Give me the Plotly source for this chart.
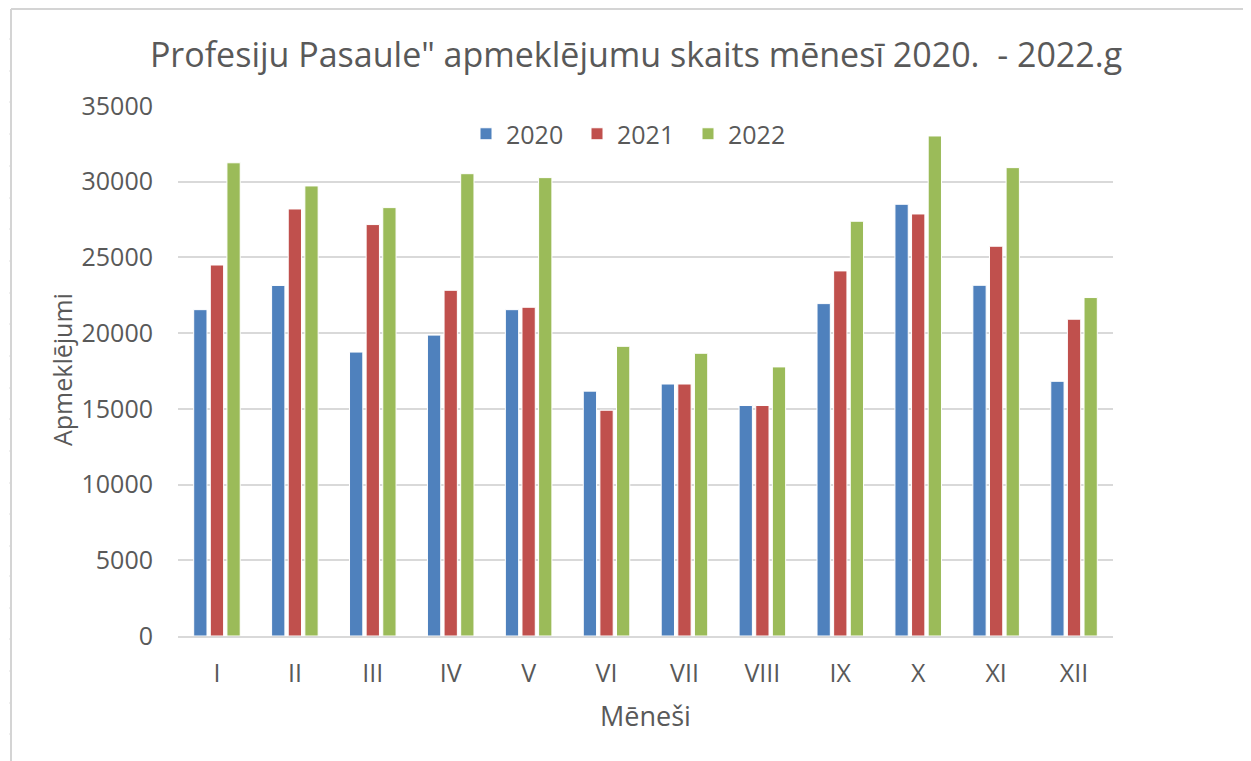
import plotly.graph_objects as go

months = ["I", "II", "III", "IV", "V", "VI", "VII", "VIII", "IX", "X", "XI", "XII"]
v2020 = [21550, 23150, 18750, 19870, 21550, 16170, 16640, 15220, 21950, 28510, 23160, 16820]
v2021 = [24500, 28200, 27170, 22830, 21710, 14910, 16640, 15220, 24110, 27870, 25740, 20920]
v2022 = [31250, 29720, 28290, 30530, 30270, 19130, 18670, 17770, 27390, 33020, 30930, 22350]
series_names = ["2020", "2021", "2022"]
colors = ["#4F81BD", "#C0504D", "#9BBB59"]

OFF = 8  # page body margin
W, H = 1251 - OFF, 761 - OFF
L, R, T, B = 178 - OFF, 1113 - OFF, 106 - OFF, 636 - OFF

def px(x):
    return (x - OFF - L) / (R - L)

def py(y):
    return (B - (y - OFF)) / (B - T)

FONT = "Open Sans"
TXT = "#595959"

fig = go.Figure()
for name, vals, c in zip(series_names, [v2020, v2021, v2022], colors):
    fig.add_trace(go.Bar(x=months, y=vals, name=name, marker=dict(color=c, line=dict(color="white", width=1))))

shapes = []
grid_c = "#D9D9D9"
# spreadsheet frame
shapes.append(dict(type="line", xref="paper", yref="paper", x0=px(11), x1=px(11), y0=py(9), y1=py(770), line=dict(color="#D4D4D4", width=2)))
shapes.append(dict(type="line", xref="paper", yref="paper", x0=px(11), x1=px(1260), y0=py(9), y1=py(9), line=dict(color="#D4D4D4", width=2)))
for yy in [39, 71, 102, 134, 166, 198, 229, 261, 293, 324, 356, 388, 419, 451, 483, 514, 546, 576, 608, 639, 671, 703, 734]:
    shapes.append(dict(type="line", xref="paper", yref="paper", x0=px(9), x1=px(10), y0=py(yy), y1=py(yy), line=dict(color="#E0E0E0", width=1)))

annotations = [
    dict(text="Apmeklējumi", xref="paper", yref="paper", x=px(62), y=py(370), showarrow=False, textangle=-90,
         font=dict(family=FONT, size=25, color=TXT), xanchor="center", yanchor="middle"),
    dict(text="Mēneši", xref="paper", yref="paper", x=px(645), y=py(715), showarrow=False,
         font=dict(family=FONT, size=27, color=TXT), xanchor="center", yanchor="middle"),
]

fig.update_layout(
    width=W, height=H,
    margin=dict(l=L, r=W - R, t=T, b=H - B, pad=0),
    paper_bgcolor="white", plot_bgcolor="white",
    title=dict(text="Profesiju Pasaule\" apmeklējumu skaits mēnesī 2020.  - 2022.g",
               x=(636 - OFF) / W, xanchor="center", y=1 - (55 - OFF) / H, yanchor="middle",
               font=dict(family=FONT, size=34, color=TXT)),
    barmode="group", bargap=0.36, bargroupgap=0.2,
    legend=dict(orientation="h", x=px(466), xanchor="left", y=py(134), yanchor="middle",
                font=dict(family=FONT, size=25, color=TXT), bgcolor="rgba(0,0,0,0)",
                itemwidth=30, entrywidth=66, entrywidthmode="pixels"),
    font=dict(family=FONT, color=TXT),
    shapes=shapes, annotations=annotations,
    showlegend=True,
)
fig.update_xaxes(showgrid=False, showline=True, linecolor=grid_c, linewidth=2, ticks="", tickfont=dict(family=FONT, size=25, color=TXT),
                 ticklabelstandoff=14)
fig.update_yaxes(range=[0, 35000], dtick=5000, showgrid=True, gridcolor=grid_c, gridwidth=2, zeroline=False,
                 showline=False, ticks="", tickfont=dict(family=FONT, size=25, color=TXT), ticklabelstandoff=24,
                 tickformat="d")

fig.write_html("out.html")
